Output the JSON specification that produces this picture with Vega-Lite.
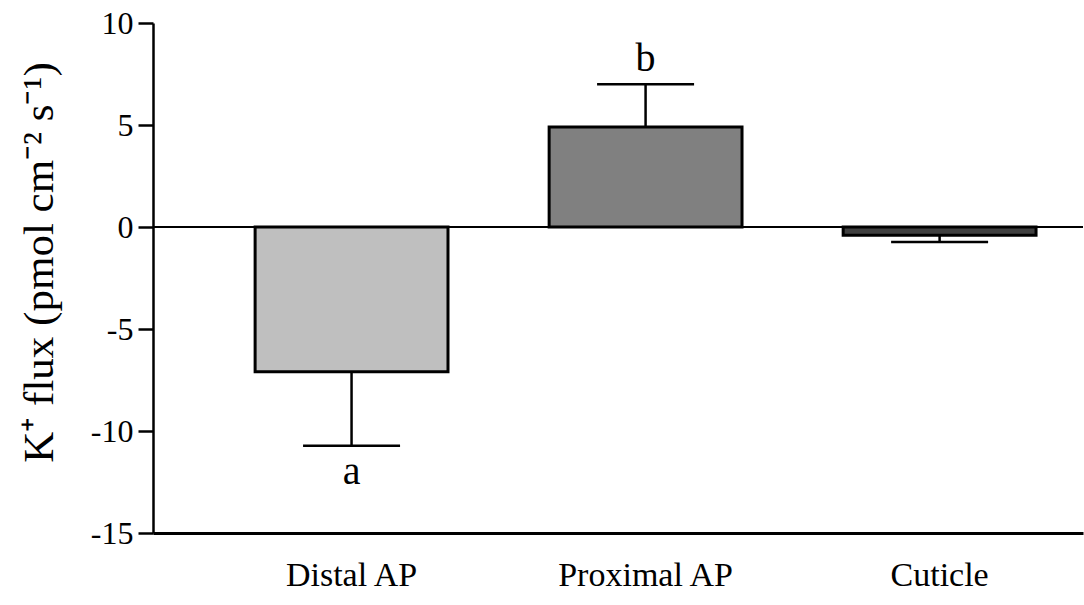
{
  "$schema": "https://vega.github.io/schema/vega-lite/v6.json",
  "width": 930,
  "height": 510,
  "autosize": {"type": "none"},
  "padding": {"left": 153, "top": 23, "right": 1, "bottom": 72},
  "background": "white",
  "data": {
    "values": [
      {"group": "Distal AP", "mean": -7.1, "errEnd": -10.72, "letter": "a"},
      {"group": "Proximal AP", "mean": 4.9, "errEnd": 7.0, "letter": "b"},
      {"group": "Cuticle", "mean": -0.4, "errEnd": -0.73, "letter": ""}
    ]
  },
  "encoding": {
    "x": {
      "field": "group",
      "type": "nominal",
      "sort": ["Distal AP", "Proximal AP", "Cuticle"],
      "scale": {"paddingInner": 0.344, "paddingOuter": 0.2535, "align": 0.685},
      "axis": {
        "title": null,
        "labelAngle": 0,
        "labelFont": "Liberation Serif",
        "labelFontSize": 34,
        "labelColor": "black",
        "labelPadding": 25,
        "ticks": false,
        "domainColor": "black",
        "domainWidth": 3
      }
    }
  },
  "layer": [
    {
      "mark": {"type": "rule", "color": "black", "strokeWidth": 2},
      "encoding": {"x": null, "y": {"datum": 0, "type": "quantitative"}}
    },
    {
      "mark": {"type": "rule", "color": "black", "strokeWidth": 2.5},
      "encoding": {
        "y": {"field": "mean", "type": "quantitative"},
        "y2": {"field": "errEnd"}
      }
    },
    {
      "mark": {"type": "tick", "color": "black", "opacity": 1, "size": 97, "thickness": 2.5, "orient": "horizontal"},
      "encoding": {
        "y": {"field": "errEnd", "type": "quantitative"}
      }
    },
    {
      "mark": {"type": "bar", "stroke": "black", "strokeWidth": 3, "opacity": 1},
      "encoding": {
        "y": {
          "field": "mean",
          "type": "quantitative",
          "scale": {"domain": [-15, 10], "nice": false, "zero": false},
          "axis": {
            "title": "K⁺ flux (pmol cm⁻² s⁻¹)",
            "values": [-15, -10, -5, 0, 5, 10],
            "labelExpr": "toString(datum.value)",
            "grid": false,
            "domainColor": "black",
            "domainWidth": 2.5,
            "tickColor": "black",
            "tickWidth": 2.5,
            "tickSize": 15,
            "labelFont": "Liberation Serif",
            "labelFontSize": 32,
            "labelColor": "black",
            "labelPadding": 5,
            "titleFont": "Liberation Serif",
            "titleFontSize": 43,
            "titleFontWeight": "normal",
            "titleColor": "black",
            "titlePadding": 29,
            "titleY": 239
          }
        },
        "y2": {"datum": 0},
        "color": {
          "field": "group",
          "type": "nominal",
          "scale": {"domain": ["Distal AP", "Proximal AP", "Cuticle"], "range": ["#bfbfbf", "#808080", "#404040"]},
          "legend": null
        }
      }
    },
    {
      "transform": [{"filter": "datum.errEnd < 0"}],
      "mark": {"type": "text", "font": "Liberation Serif", "fontSize": 40, "color": "black", "baseline": "middle", "dy": 26},
      "encoding": {
        "y": {"field": "errEnd", "type": "quantitative"},
        "text": {"field": "letter"}
      }
    },
    {
      "transform": [{"filter": "datum.errEnd > 0"}],
      "mark": {"type": "text", "font": "Liberation Serif", "fontSize": 40, "color": "black", "baseline": "middle", "dy": -25},
      "encoding": {
        "y": {"field": "errEnd", "type": "quantitative"},
        "text": {"field": "letter"}
      }
    }
  ],
  "config": {"view": {"stroke": null}}
}
